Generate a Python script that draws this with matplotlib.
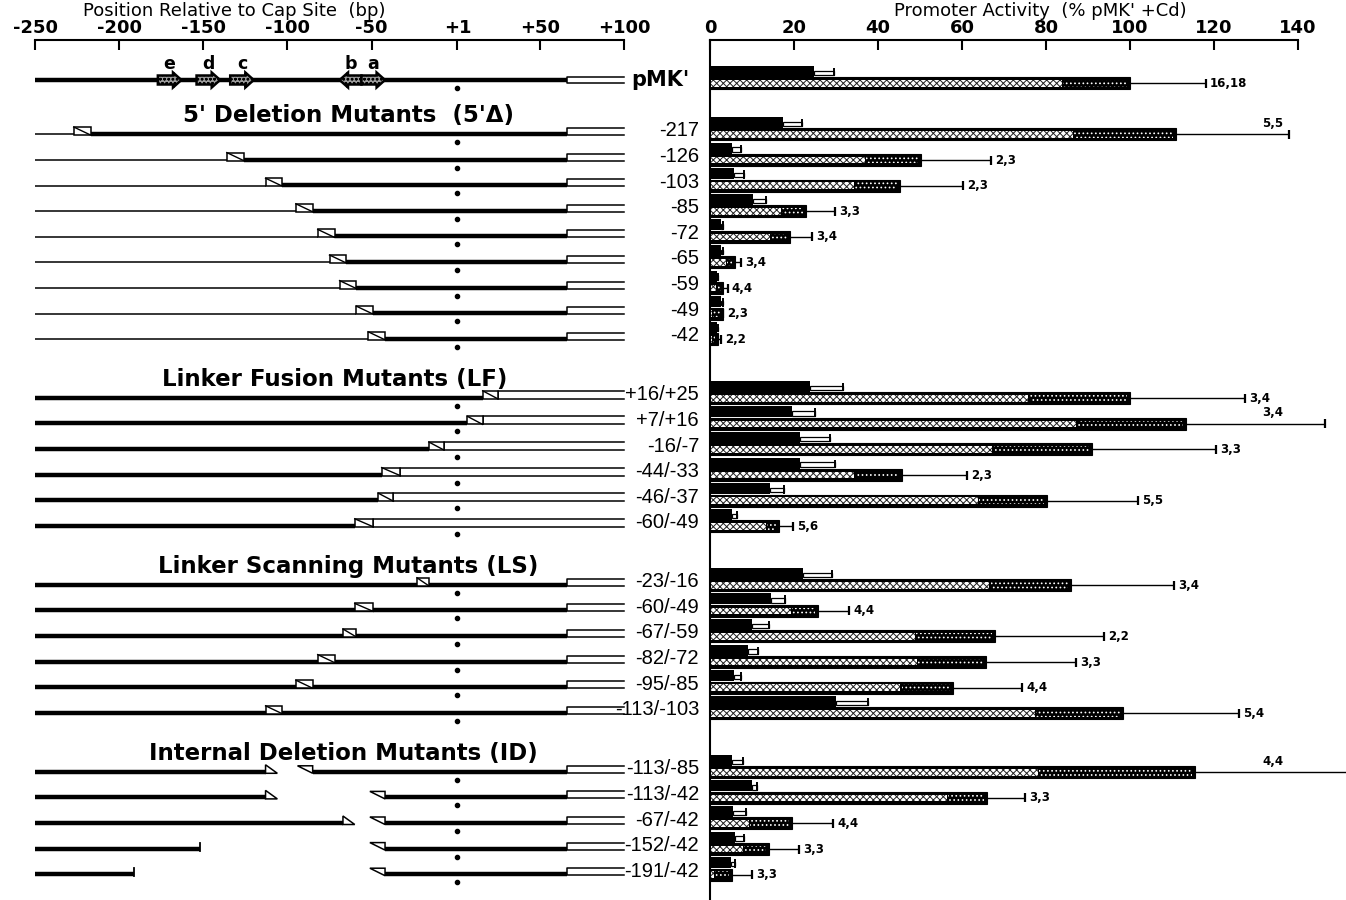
import matplotlib.pyplot as plt
import numpy as np
from matplotlib.patches import Rectangle, Polygon, FancyArrow

plt.rcParams['font.family'] = ['DejaVu Sans']
plt.rcParams['hatch.linewidth'] = 0.7

# ---------------- constructs (bp relative to cap site) ----------------
mt_end = 66  # MT-I sequence ends here, vector sequence beyond

element_names = ['e', 'd', 'c', 'b', 'a']
element_start = [-177, -154, -134, -56, -56]
element_end = [-163, -140, -120, -69, -42]

del5_labels = ['-217', '-126', '-103', '-85', '-72', '-65', '-59', '-49', '-42']
del5_ends = [-217, -126, -103, -85, -72, -65, -59, -49, -42]

lf_labels = ['+16/+25', '+7/+16', '-16/-7', '-44/-33', '-46/-37', '-60/-49']
lf_linker = [(16, 25), (7, 16), (-16, -7), (-44, -33), (-46, -37), (-60, -49)]

ls_labels = ['-23/-16', '-60/-49', '-67/-59', '-82/-72', '-95/-85', '-113/-103']
ls_linker = [(-23, -16), (-60, -49), (-67, -59), (-82, -72), (-95, -85), (-113, -103)]

id_labels = ['-113/-85', '-113/-42', '-67/-42', '-152/-42', '-191/-42']
id_gap = [(-113, -85), (-113, -42), (-67, -42), (-152, -42), (-191, -42)]
id_left_style = ['flag', 'flag', 'flag', 'tick', 'tick']

section_titles = ["5' Deletion Mutants  (5'\u0394)", 'Linker Fusion Mutants (LF)',
                  'Linker Scanning Mutants (LS)', 'Internal Deletion Mutants (ID)']

# ---------------- promoter activity (% pMK' +Cd) ----------------
# row order: pMK', 5' deletions, LF, LS, ID
minus_cd = np.array([24.8,
                     17.3, 5.2, 5.8, 10.2, 2.7, 2.5, 1.7, 2.7, 1.7,
                     23.8, 19.6, 21.5, 21.5, 14.3, 5.2,
                     22.1, 14.5, 10.0, 9.0, 5.8, 30.0,
                     5.2, 10.0, 5.5, 6.0, 5.0])
minus_err = np.array([29.5,
                      22.0, 7.3, 8.0, 13.3, 3.2, 3.0, 2.0, 3.0, 2.0,
                      31.6, 25.1, 28.6, 29.8, 17.5, 6.5,
                      29.0, 17.8, 14.0, 11.4, 7.3, 37.6,
                      7.8, 11.2, 8.6, 8.0, 6.0])
plus_cd = np.array([100.0,
                    110.9, 50.3, 45.3, 22.8, 19.0, 6.0, 3.2, 3.0, 2.0,
                    99.9, 113.4, 90.9, 45.8, 80.3, 16.5,
                    85.9, 25.6, 67.9, 65.6, 57.8, 98.3,
                    115.4, 66.0, 19.5, 14.0, 5.2])
plus_split = np.array([83.8,
                       86.4, 36.8, 34.3, 16.8, 14.3, 3.7, 1.5, 0.5, 0.5,
                       75.8, 87.2, 67.2, 34.3, 63.8, 13.3,
                       66.5, 19.3, 48.8, 49.3, 45.3, 77.3,
                       78.1, 56.4, 9.3, 7.8, 1.0])
plus_err = np.array([118.0,
                     137.9, 66.8, 60.3, 29.8, 24.3, 7.3, 4.2, 3.0, 2.5,
                     127.4, 146.5, 120.4, 61.1, 101.9, 19.8,
                     110.4, 33.1, 93.9, 87.2, 74.3, 125.9,
                     155.0, 75.0, 29.3, 21.3, 10.0])
n_exp = ['16,18',
         '5,5', '2,3', '2,3', '3,3', '3,4', '3,4', '4,4', '2,3', '2,2',
         '3,4', '3,4', '3,3', '2,3', '5,5', '5,6',
         '3,4', '4,4', '2,2', '3,3', '4,4', '5,4',
         '4,4', '3,3', '4,4', '3,3', '3,3']
n_above = ['-217', '+7/+16', '-113/-85']

row_labels = ["pMK'"] + del5_labels + lf_labels + ls_labels + id_labels

# ---------------- layout (pixel rows) ----------------
W, H = 1346, 900
TOP = 40
step = 25.6
group_sizes = [len(del5_labels), len(lf_labels), len(ls_labels), len(id_labels)]
rows = [80.0]
group_first = []
y = 131.0
for n in group_sizes:
    group_first.append(y)
    for i in range(n):
        rows.append(y + i * step)
    y = rows[-1] + 59
rows = np.array(rows)

fig = plt.figure(figsize=(W / 100, H / 100), dpi=100)
axL = fig.add_axes([35 / W, 0, (624 - 35) / W, (H - TOP) / H])
axR = fig.add_axes([710 / W, 0, (1298 - 710) / W, (H - TOP) / H])
for ax in (axL, axR):
    ax.set_ylim(H, TOP)
    ax.set_yticks([])
    ax.xaxis.tick_top()
    ax.tick_params(axis='x', direction='in', length=7, width=1.5, pad=2, labelsize=13)
    for s in ('right', 'bottom', 'left'):
        ax.spines[s].set_visible(False)
    ax.spines['top'].set_linewidth(1.5)
    ax.patch.set_alpha(0)

axL.set_xlim(-250, 100)
axL.set_xticks([-250, -200, -150, -100, -50, 1, 50, 100])
axL.set_xticklabels(['-250', '-200', '-150', '-100', '-50', '+1', '+50', '+100'], fontweight='bold')
axR.set_xlim(0, 140)
axR.set_xticks(range(0, 141, 20))
axR.set_xticklabels([str(v) for v in range(0, 141, 20)], fontweight='bold')
axR.spines['left'].set_visible(True)
axR.spines['left'].set_linewidth(1.5)

fig.text(234 / W, 1 - 11 / H, 'Position Relative to Cap Site  (bp)', ha='center', va='center', fontsize=13)
fig.text(1040 / W, 1 - 11 / H, "Promoter Activity  (% pMK' +Cd)", ha='center', va='center', fontsize=13)

THICK, THIN = 3.2, 1.1


def hline(x0, x1, yy, lw):
    axL.plot([x0, x1], [yy, yy], color='k', lw=lw, solid_capstyle='butt', clip_on=False, zorder=2)


def open_box(x0, yy, top=6, bot=1):
    axL.plot([100, x0, x0, 100], [yy - top, yy - top, yy + bot, yy + bot], color='k', lw=1.1,
             clip_on=False, zorder=3)


def linker(x0, x1, yy):
    axL.add_patch(Rectangle((x0, yy - 7), x1 - x0, 8, fc='white', ec='k', lw=1.1, zorder=4, clip_on=False))
    axL.plot([x0, x1], [yy - 7, yy + 1], color='k', lw=1.0, zorder=5, clip_on=False)


def cap_dot(yy):
    axL.plot(1, yy + 8, 'o', ms=3, color='k', clip_on=False)


# pMK'
yl = rows[0]
hline(-250, mt_end, yl, THICK)
open_box(mt_end, yl, top=3, bot=3)
cap_dot(yl)
for nm, x0, x1 in zip(element_names, element_start, element_end):
    axL.add_patch(FancyArrow(x0, yl, x1 - x0, 0, width=9, head_width=15, head_length=5,
                             length_includes_head=True, fc='#9a9a9a', ec='k', hatch='oooo', lw=1.8, zorder=4))
    axL.text((x0 + x1) / 2, yl - 16, nm, ha='center', va='center', fontsize=12.5, fontweight='bold')

lines = rows + 3
k = 1
# 5' deletions
for e in del5_ends:
    yl = lines[k]
    hline(-250, e - 10, yl + 0.5, THIN)
    linker(e - 10, e, yl)
    hline(e, mt_end, yl, THICK)
    open_box(mt_end, yl)
    cap_dot(yl)
    k += 1
# linker fusions
for a, b in lf_linker:
    yl = lines[k]
    hline(-250, a, yl, THICK)
    linker(a, b, yl)
    open_box(b, yl, top=7)
    cap_dot(yl)
    k += 1
# linker scanning
for a, b in ls_linker:
    yl = lines[k]
    hline(-250, mt_end, yl, THICK)
    linker(a, b, yl)
    open_box(mt_end, yl)
    cap_dot(yl)
    k += 1
# internal deletions
for (a, b), st in zip(id_gap, id_left_style):
    yl = lines[k]
    hline(-250, a, yl, THICK)
    if st == 'flag':
        axL.add_patch(Polygon([(a, yl + 1.5), (a, yl - 7), (a + 7, yl + 1.5)], closed=True,
                              fc='white', ec='k', lw=1.1, zorder=4))
    else:
        axL.plot([a, a], [yl + 2, yl - 6], color='k', lw=1.3)
    axL.add_patch(Polygon([(b - 9, yl - 6), (b, yl + 1.5), (b, yl - 6)], closed=True,
                          fc='white', ec='k', lw=1.1, zorder=4))
    hline(b, mt_end, yl, THICK)
    open_box(mt_end, yl)
    cap_dot(yl)
    k += 1

for title, yf, xc in zip(section_titles, group_first, [-64, -72, -64, -67]):
    axL.text(xc, yf - 15, title, ha='center', va='center', fontsize=16.5, fontweight='bold')

for lab, yy in zip(row_labels, rows):
    if lab == "pMK'":
        fig.text(690 / W, 1 - yy / H, lab, ha='right', va='center', fontsize=15, fontweight='bold')
    else:
        fig.text(699 / W, 1 - yy / H, lab, ha='right', va='center', fontsize=14.5, family='Liberation Sans')

# ---------------- bars ----------------
yb_m = rows - 8.5
yb_p = rows + 3.5
axR.barh(yb_m, minus_cd, height=11, color='k', zorder=3)
axR.barh(yb_m + 1.5, minus_err - minus_cd, left=minus_cd, height=4.5, fc='white', ec='k', lw=0.9, zorder=3)
axR.vlines(minus_err, yb_m - 3.5, yb_m + 5, color='k', lw=1.4, zorder=3)

axR.barh(yb_p, plus_cd, height=12, fc='k', ec='k', lw=0.8, zorder=3)
axR.barh(yb_p, np.clip(plus_split - 0.3, 0, None), left=0.3, height=6.5, fc='white', ec='#222222',
         hatch='xxxxx', lw=0, zorder=4)
axR.barh(yb_p, np.clip(plus_cd - plus_split - 1.0, 0, None), left=plus_split + 0.3, height=6.5,
         fc='k', ec='white', hatch='....', lw=0, zorder=4)
axR.hlines(yb_p, plus_cd, plus_err, color='k', lw=1.0, zorder=3, clip_on=False)
axR.vlines(plus_err, yb_p - 4.5, yb_p + 4.5, color='k', lw=1.6, zorder=3, clip_on=False)

for lab, n, xe, yy in zip(row_labels, n_exp, plus_err, yb_p):
    if lab in n_above:
        axR.text(134, yy - 11, n, ha='center', va='center', fontsize=8.5, fontweight='bold', clip_on=False)
    else:
        axR.text(xe + 1.0, yy, n, ha='left', va='center', fontsize=8.5, fontweight='bold', clip_on=False)

fig.savefig('out.png', dpi=100)
